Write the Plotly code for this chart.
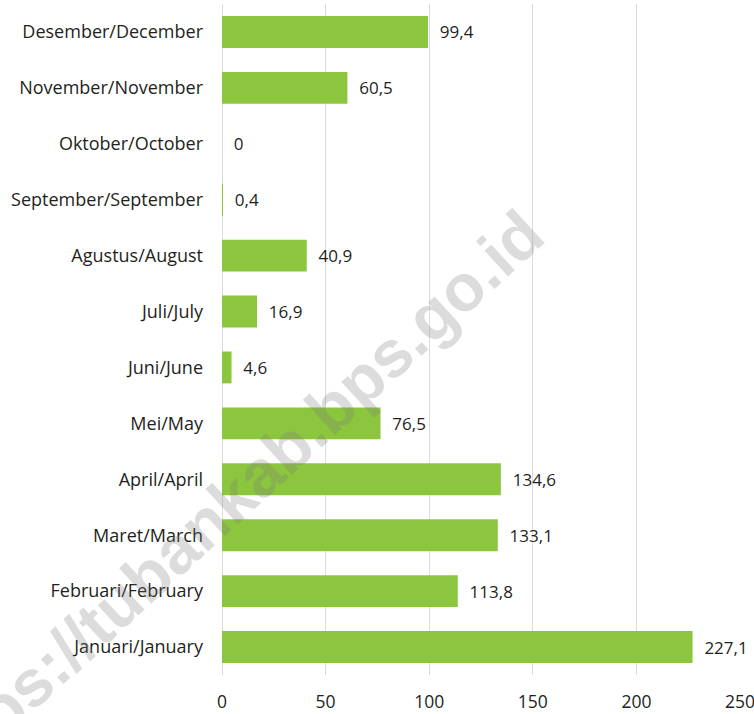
import plotly.graph_objects as go

months = ["Januari/January", "Februari/February", "Maret/March", "April/April",
          "Mei/May", "Juni/June", "Juli/July", "Agustus/August",
          "September/September", "Oktober/October", "November/November",
          "Desember/December"]
rainfall = [227.1, 113.8, 133.1, 134.6, 76.5, 4.6, 16.9, 40.9, 0.4, 0, 60.5, 99.4]
x_ticks = [0, 50, 100, 150, 200, 250]

labels = ["  " + f"{v:g}".replace(".", ",") for v in rainfall]

fig = go.Figure(go.Bar(
    y=months, x=rainfall, orientation="h",
    marker=dict(color="#8CC63F", line=dict(width=0)),
    text=labels, textposition="outside", cliponaxis=False,
    textfont=dict(size=17, color="#231F20"),
    width=0.57,
))

fig.update_layout(
    width=754, height=714,
    margin=dict(l=222, r=14, t=4, b=39),
    plot_bgcolor="white", paper_bgcolor="white",
    font=dict(family="Open Sans", size=17, color="#231F20"),
    showlegend=False,
    xaxis=dict(range=[0, 250], tickvals=x_ticks, showgrid=True,
               gridcolor="#DCDCDC", gridwidth=1, zeroline=True,
               zerolinecolor="#DCDCDC", zerolinewidth=1, automargin=False,
               ticks="", tickfont=dict(size=17.5), ticklabelstandoff=14,
               ticklabeloverflow="allow"),
    yaxis=dict(categoryorder="array", categoryarray=months, automargin=False,
               ticks="", tickfont=dict(size=18), ticklabelstandoff=18,
               showgrid=False),
    annotations=[dict(
        text="https://tubankab.bps.go.id", xref="paper", yref="paper",
        x=0.0116, y=0.258, xanchor="center", yanchor="middle",
        textangle=-42.5, showarrow=False,
        font=dict(family="Liberation Sans", size=66,
                  color="rgba(120,120,120,0.26)", weight="bold"),
    )],
)

fig.write_html("out.html",
               config={"displayModeBar": False},
               post_script="document.body.style.margin='0';"
                           "document.body.style.overflow='hidden';")
